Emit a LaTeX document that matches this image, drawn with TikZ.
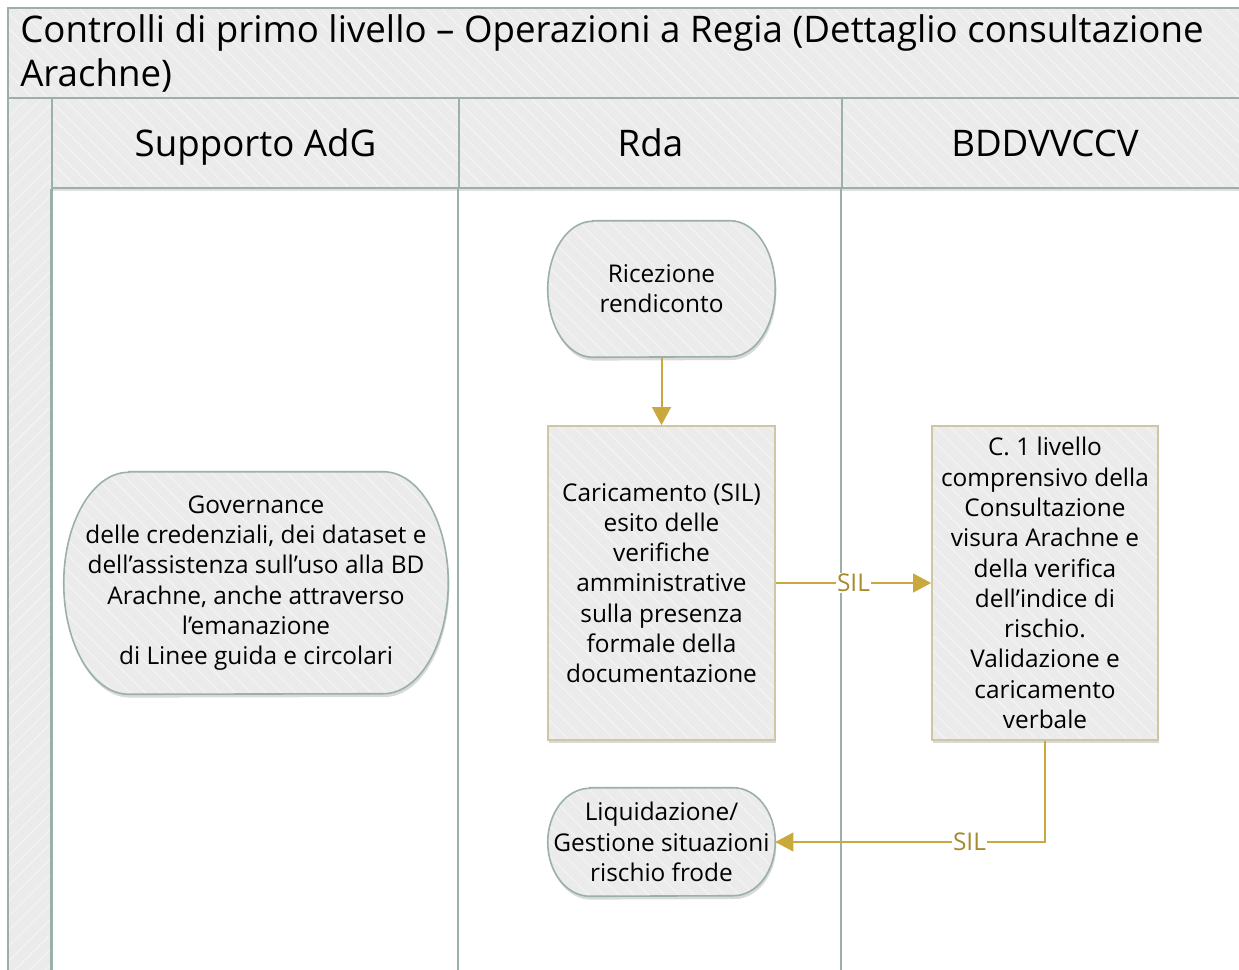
\documentclass[tikz,border=0pt]{standalone}
\usepackage{fontspec}
\setmainfont{Open Sans}
\usetikzlibrary{arrows.meta, shadows, backgrounds, patterns.meta}

\definecolor{bandgray}{RGB}{235,235,235}
\definecolor{hatchgray}{RGB}{245,245,245}
\definecolor{lanegreen}{RGB}{155,176,169}
\definecolor{boxtan}{RGB}{207,198,165}
\definecolor{silgold}{RGB}{201,169,61}
\definecolor{siltext}{RGB}{166,139,44}

\newcommand{\boxfont}{\fontsize{18.3}{22.7}\selectfont}

\begin{document}
\begin{tikzpicture}[x=0.75pt, y=-0.75pt,
	hatch/.style = {preaction = {fill = bandgray}, preaction = {pattern = {Lines[angle=-45, distance=8pt, line width=.7pt]}, pattern color = hatchgray}},
	hatchup/.style = {preaction = {fill = bandgray}, preaction = {pattern = {Lines[angle=45, distance=8pt, line width=.7pt]}, pattern color = hatchgray}},
	softshadow/.style = {drop shadow = {shadow xshift = .8pt, shadow yshift = -2.5pt, opacity = .3}},
	band/.style = {draw = lanegreen, line width = 1.5pt},
	header/.style = {band, minimum height = 67.5pt, inner sep = 0pt, text height = 20pt, text depth = 0pt,
		font = \fontsize{27.5}{32}\selectfont},
	lane/.style = {draw = lanegreen, line width = 1.5pt},
	term/.style = {minimum width = 170.25pt, inner sep = 0pt, align = center, font = \boxfont},
	termline/.style = {draw = lanegreen, line width = 1.2pt, softshadow, hatch},
	task/.style = {draw = boxtan, line width = 1.2pt, softshadow, hatch, minimum width = 170.25pt,
		minimum height = 235.5pt, inner sep = 0pt, align = center, font = \boxfont},
	flow/.style = {draw = silgold, line width = 1.5pt, -{Triangle[length=13.5pt, width=14pt]}},
	sil/.style = {fill = white, text = siltext, inner sep = 1pt, font = \boxfont}]

	\useasboundingbox (0,0) rectangle (1239,970);
	\clip (0,0) rectangle (1239,970);

	\draw [band, hatch] (8,8) rectangle (1300,98);
	\node [anchor = west, align = left, inner sep = 0pt, font = \fontsize{27.5}{33}\selectfont] (title) at (20,53)
		{Controlli di primo livello – Operazioni a Regia (Dettaglio consultazione\\Arachne)};
	\draw [band, hatchup] (8,98) rectangle (52,1000);

	\node [header, minimum width = 305.25pt,
		drop shadow = {shadow xshift = 0pt, shadow yshift = -2pt, opacity = .25}, hatch] (hdrSupp) at (255.5,143) {Supporto AdG};
	\node [header, minimum width = 287.25pt,
		drop shadow = {shadow xshift = 0pt, shadow yshift = -2pt, opacity = .25}, hatch] (hdrRda) at (650.5,143) {Rda};
	\node [header, minimum width = 304.5pt,
		drop shadow = {shadow xshift = 0pt, shadow yshift = -2pt, opacity = .25}, hatch] (hdrBdd) at (1045,143) {BDDVVCCV};

	\draw [lane] (hdrSupp.south west) -- ++(0,820);
	\draw [lane] (hdrRda.south west) -- ++(0,820);
	\draw [lane] (hdrBdd.south west) -- ++(0,820);

	\node [term, minimum height = 102pt] (ric) at (661.5,289) {Ricezione\\rendiconto};
	\node [task] (car) at (661.5,583) {Caricamento (SIL)\\esito delle\\verifiche\\amministrative\\sulla presenza\\formale della\\documentazione};
	\node [task, minimum width = 169.5pt] (cv) at (1045,583) {C. 1 livello\\comprensivo della\\Consultazione\\visura Arachne e\\della verifica\\dell’indice di\\rischio.\\Validazione e\\caricamento\\verbale};
	\node [term, minimum width = 288pt, minimum height = 166.5pt] (gov) at (256,583) {Governance\\delle credenziali, dei dataset e\\dell’assistenza sull’uso alla BD\\Arachne, anche attraverso\\l’emanazione\\di Linee guida e circolari};
	\node [term, minimum height = 81pt] (liq) at (661.5,842) {Liquidazione/\\Gestione situazioni\\rischio frode};

	\begin{pgfonlayer}{background}
	\foreach \n/\e/\r in {ric/33.75pt/51pt, gov/48.75pt/83.25pt, liq/31.5pt/40.5pt}
		\draw [termline] ([xshift=\e]\n.north west) -- ([xshift=-\e]\n.north east)
			arc [start angle=90, end angle=-90, x radius=\e, y radius=\r]
			-- ([xshift=\e]\n.south west)
			arc [start angle=270, end angle=90, x radius=\e, y radius=\r] -- cycle;
	\end{pgfonlayer}

	\draw [flow] (ric) -- (car);
	\draw [flow] (car) -- node [sil] {SIL} (cv);
	\draw [flow] (cv) |- node [sil, pos = .64] {SIL} (liq);

\end{tikzpicture}
\end{document}
